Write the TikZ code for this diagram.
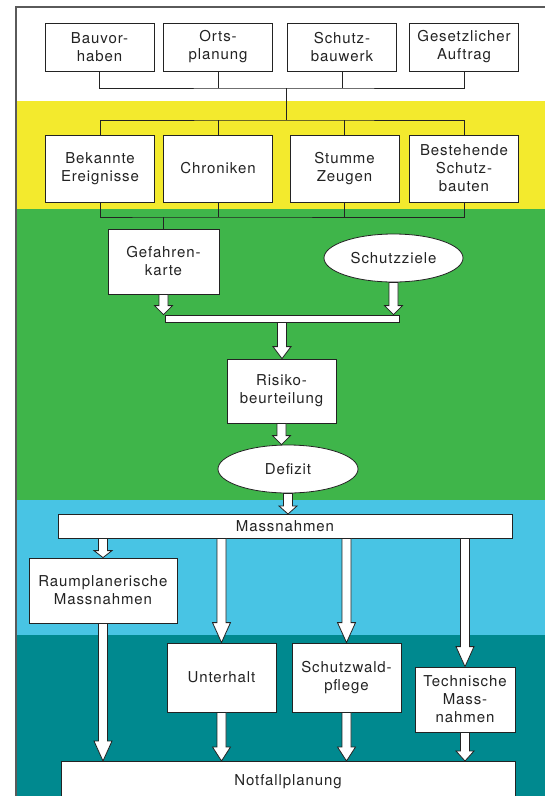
\documentclass[tikz,border=0pt]{standalone}
\usepackage{fontspec}
\setmainfont{TeX Gyre Heros}[LetterSpace=6]
\usetikzlibrary{calc,positioning,shapes.geometric}
\definecolor{bandyellow}{RGB}{243,234,45}
\definecolor{bandgreen}{RGB}{63,181,74}
\definecolor{bandblue}{RGB}{72,196,228}
\definecolor{bandteal}{RGB}{0,137,143}
\definecolor{framegray}{RGB}{90,90,90}
\definecolor{inkgray}{RGB}{35,35,35}

% hollow block arrow, straight down from #2 to #3, head length #1
\newcommand{\hollowarrow}[3][10]{%
  \draw[hollow] let \p1=(#2), \p2=(#3) in
    (\x1-4.5pt,\y1) -- (\x1-4.5pt,\y2+#1pt) -- (\x1-9pt,\y2+#1pt) -- (\x1,\y2)
    -- (\x1+9pt,\y2+#1pt) -- (\x1+4.5pt,\y2+#1pt) -- (\x1+4.5pt,\y1) -- cycle;}

\begin{document}
\begin{tikzpicture}[x=1pt, y=-1pt,
  box/.style={draw=inkgray, fill=white, line width=0.8pt, align=center, inner sep=1pt,
    text=inkgray, font=\fontsize{15}{18}\selectfont, minimum width=109pt},
  oval/.style={box, ellipse, inner sep=0pt},
  hollow/.style={draw=inkgray, fill=white, line width=0.8pt, line join=miter},
  link/.style={draw=inkgray, line width=0.8pt}]
  \useasboundingbox (0,0) rectangle (545,796);
  \clip (0,0) rectangle (545,796);

  % Bands
  \fill[white] (16,7) rectangle (560,101);
  \fill[bandyellow] (16,101) rectangle (560,209);
  \fill[bandgreen] (16,209) rectangle (560,500);
  \fill[bandblue] (16,500) rectangle (560,635);
  \fill[bandteal] (16,635) rectangle (560,830);
  \draw[framegray, line width=1.5pt] (16,830) -- (16,7) -- (560,7);

  % Triggers
  \node[box, minimum height=48pt] (bv) at (99.5,47) {Bauvor-\\haben};
  \node[box, minimum height=48pt] (op) at (218,47) {Orts-\\planung};
  \node[box, minimum height=48pt] (sb) at (342,47) {Schutz-\\bauwerk};
  \node[box, minimum height=48pt] (ga) at (464,47) {Gesetzlicher\\Auftrag};

  % Sources
  \node[box, minimum height=67pt] (be) at (100,168.5) {Bekannte\\Ereignisse};
  \node[box, minimum height=67pt] (ch) at (218,168.5) {Chroniken};
  \node[box, minimum height=67pt] (sz) at (344.5,168.5) {Stumme\\Zeugen};
  \node[box, minimum height=67pt] (bs) at (464,168.5) {Bestehende\\Schutz-\\bauten};

  % Tree lines
  \coordinate (j1) at (286,88);
  \coordinate (j2) at (286,120);
  \coordinate (j3) at (163.5,217);
  \draw[link] (bv.south) |- (j1) -| (ga.south);
  \draw[link] (op.south) -- (op.south |- j1);
  \draw[link] (sb.south) -- (sb.south |- j1);
  \draw[link] (j1) -- (j2);
  \draw[link] (be.north) |- (j2) -| (bs.north);
  \draw[link] (ch.north) -- (ch.north |- j2);
  \draw[link] (sz.north) -- (sz.north |- j2);
  \draw[link] (be.south) |- (j3) -| (bs.south);
  \draw[link] (ch.south) -- (ch.south |- j3);
  \draw[link] (sz.south) -- (sz.south |- j3);

  % Assessment
  \node[box, minimum width=111pt, minimum height=65pt] (gk) at (163.5,261.5) {Gefahren-\\karte};
  \node[oval, minimum width=139pt, minimum height=48pt] (zl) at (393.5,258) {Schutzziele};
  \draw[link] (j3) -- (gk.north);
  \node[box, minimum width=234pt, minimum height=7pt, inner sep=0pt] (bar) at (282,318.5) {};
  \node[box, minimum height=64pt] (rb) at (281.5,391) {Risiko-\\beurteilung};
  \node[oval, minimum width=140pt, minimum height=48pt] (df) at (288,469) {Defizit};
  \hollowarrow[9]{gk.south}{bar.north}
  \hollowarrow[9]{zl.south}{bar.north}
  \hollowarrow[12]{bar.south}{rb.north}
  \hollowarrow[9]{rb.south}{df.north}
  \hollowarrow[8]{df.south}{bar.north |- 0,514}

  % Measures
  \node[box, minimum width=454pt, minimum height=24pt, inner sep=0pt] (ms) at (285,526) {Massnahmen};
  \node[box, minimum width=148pt, minimum height=65pt] (rp) at (103,590.5) {Raumplanerische\\Massnahmen};
  \node[box, minimum height=69pt] (uh) at (221.5,677.5) {Unterhalt};
  \node[box, minimum height=69pt] (sw) at (346.5,677.5) {Schutzwald-\\pflege};
  \node[box, minimum width=100pt, minimum height=65pt] (tm) at (465,699.5) {Technische\\Mass-\\nahmen};
  \node[box, minimum width=454pt, minimum height=40pt, anchor=north] (nf) at (288,761) {Notfallplanung};
  \hollowarrow[7]{rp.north |- ms.south}{rp.north}
  \hollowarrow[20]{uh.north |- ms.south}{uh.north}
  \hollowarrow[20]{sw.north |- ms.south}{sw.north}
  \hollowarrow[20]{tm.north |- ms.south}{tm.north}
  \hollowarrow[20]{rp.south}{rp.south |- nf.north}
  \hollowarrow[14]{uh.south}{uh.south |- nf.north}
  \hollowarrow[14]{sw.south}{sw.south |- nf.north}
  \hollowarrow[10]{tm.south}{tm.south |- nf.north}
\end{tikzpicture}
\end{document}
